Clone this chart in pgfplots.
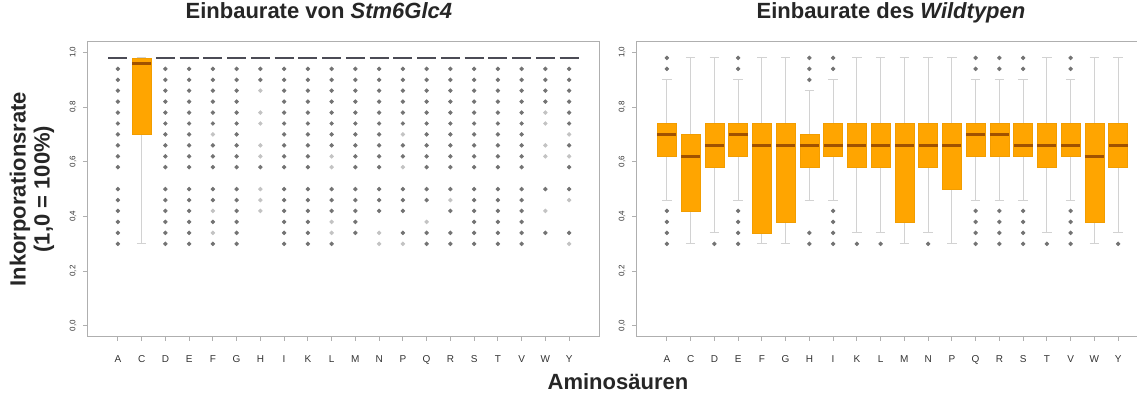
\documentclass[border=0pt]{standalone}
\usepackage{pgfplots}
\pgfplotsset{compat=1.18}
\usepgfplotslibrary{statistics}
\usepackage{fontspec}
\setmainfont{Liberation Sans}
\definecolor{boxor}{RGB}{255,165,0}
\definecolor{medc}{RGB}{160,82,0}
\definecolor{axg}{RGB}{175,175,175}
\definecolor{whg}{RGB}{210,210,210}
\definecolor{outg}{RGB}{115,115,115}
\definecolor{outl}{RGB}{195,195,195}
\definecolor{dashg}{RGB}{75,75,85}
\pgfplotsset{
  bx/.style={solid, color=outg, mark=*, mark size=0.9pt, mark options={draw=outg, fill=outg},
    boxplot/draw direction=y,
    boxplot/every box/.style={draw=boxor!95!black, fill=boxor, line width=0.3pt},
    boxplot/every whisker/.style={draw=whg, line width=0.4pt},
    boxplot/every median/.style={draw=medc, line width=1.5pt}},
  flat/.style={solid, color=outg, mark=*, mark size=0.9pt, mark options={draw=outg, fill=outg},
    boxplot/draw direction=y,
    boxplot/every box/.style={draw=none, fill=none},
    boxplot/every whisker/.style={draw=none},
    boxplot/every median/.style={draw=dashg, line width=0.8pt}},
  panel/.style={scale only axis, width=256.5pt, height=147.6pt,
    xmin=-0.3, xmax=21.3, ymin=-0.04, ymax=1.04,
    xtick={1,...,20}, xticklabels={A,C,D,E,F,G,H,I,K,L,M,N,P,Q,R,S,T,V,W,Y},
    ytick={0,0.2,0.4,0.6,0.8,1},
    tick pos=left, tick align=outside, major tick length=2pt,
    axis line style={draw=axg, line width=0.5pt},
    tick style={draw=axg, line width=0.4pt},
    /pgf/number format/assume math mode=true,
    yticklabel={\pgfmathprintnumber[use comma, fixed, fixed zerofill, precision=1]{\tick}},
    xticklabel style={font=\fontsize{5}{6}\selectfont, text=black!80, anchor=base, yshift=-11pt},
    yticklabel style={font=\fontsize{4}{5}\selectfont, text=black!80, xshift=-5pt, rotate=90, anchor=center},
    title style={font=\fontsize{11}{13}\selectfont\bfseries, text=black!85, anchor=base, yshift=5.25pt},
  },
}
\begin{document}
\begin{tikzpicture}
\path[use as bounding box] (0,0) rectangle (568.5pt,198pt);
\clip (0,0) rectangle (568.5pt,198pt);
% ---------------- left panel ----------------
\begin{axis}[panel, at={(43.5pt,29.65pt)}, anchor=south west,
  title={Einbaurate von \textit{Stm6Glc4}}, title style={at={(0.452,1)}},
  ylabel={Inkorporationsrate\\(1,0 = 100\%)},
  ylabel style={at={(axis description cs:-0.1072,0.5)}, anchor=center, align=center, text=black!85, font=\fontsize{11}{12}\selectfont\bfseries},
  xlabel={Aminosäuren},
  xlabel style={at={(axis description cs:1.035,0)}, anchor=base, yshift=-26.65pt, text=black!85, font=\fontsize{11}{13}\selectfont\bfseries},
]
\addplot[only marks, color=outl, mark=*, mark size=0.9pt, mark options={draw=outl, fill=outl}] coordinates {
 (5,0.70) (5,0.42) (5,0.34)
 (7,0.86) (7,0.78) (7,0.74) (7,0.66) (7,0.62) (7,0.50) (7,0.46) (7,0.42)
 (10,0.62) (10,0.58) (10,0.38) (10,0.34)
 (12,0.34) (12,0.30)
 (13,0.70) (13,0.58) (13,0.30)
 (14,0.38) (15,0.46)
 (19,0.78) (19,0.74) (19,0.66) (19,0.62) (19,0.42)
 (20,0.70) (20,0.62) (20,0.46) (20,0.30)
};
\addplot[flat, boxplot prepared={draw position=1, lower whisker=0.98, lower quartile=0.98, median=0.98, upper quartile=0.98, upper whisker=0.98, box extend=0.8, whisker extend=0.4}]
 table[row sep=\\, y index=0] {y\\0.94\\0.90\\0.86\\0.82\\0.78\\0.74\\0.70\\0.66\\0.62\\0.58\\0.50\\0.46\\0.42\\0.38\\0.34\\0.30\\};
\addplot[bx, boxplot prepared={draw position=2, lower whisker=0.30, lower quartile=0.70, median=0.96, upper quartile=0.98, upper whisker=0.98, box extend=0.8, whisker extend=0.4}] coordinates {};
\addplot[flat, boxplot prepared={draw position=3, lower whisker=0.98, lower quartile=0.98, median=0.98, upper quartile=0.98, upper whisker=0.98, box extend=0.8, whisker extend=0.4}]
 table[row sep=\\, y index=0] {y\\0.94\\0.90\\0.86\\0.82\\0.78\\0.74\\0.70\\0.66\\0.62\\0.58\\0.50\\0.46\\0.42\\0.38\\0.34\\0.30\\};
\addplot[flat, boxplot prepared={draw position=4, lower whisker=0.98, lower quartile=0.98, median=0.98, upper quartile=0.98, upper whisker=0.98, box extend=0.8, whisker extend=0.4}]
 table[row sep=\\, y index=0] {y\\0.94\\0.90\\0.86\\0.82\\0.78\\0.74\\0.70\\0.66\\0.62\\0.58\\0.50\\0.46\\0.42\\0.38\\0.34\\0.30\\};
\addplot[flat, boxplot prepared={draw position=5, lower whisker=0.98, lower quartile=0.98, median=0.98, upper quartile=0.98, upper whisker=0.98, box extend=0.8, whisker extend=0.4}]
 table[row sep=\\, y index=0] {y\\0.94\\0.90\\0.86\\0.82\\0.78\\0.74\\0.66\\0.62\\0.58\\0.50\\0.46\\0.38\\0.30\\};
\addplot[flat, boxplot prepared={draw position=6, lower whisker=0.98, lower quartile=0.98, median=0.98, upper quartile=0.98, upper whisker=0.98, box extend=0.8, whisker extend=0.4}]
 table[row sep=\\, y index=0] {y\\0.94\\0.90\\0.86\\0.82\\0.78\\0.74\\0.70\\0.66\\0.62\\0.58\\0.50\\0.46\\0.42\\0.38\\0.34\\0.30\\};
\addplot[flat, boxplot prepared={draw position=7, lower whisker=0.98, lower quartile=0.98, median=0.98, upper quartile=0.98, upper whisker=0.98, box extend=0.8, whisker extend=0.4}]
 table[row sep=\\, y index=0] {y\\0.94\\0.90\\0.58\\};
\addplot[flat, boxplot prepared={draw position=8, lower whisker=0.98, lower quartile=0.98, median=0.98, upper quartile=0.98, upper whisker=0.98, box extend=0.8, whisker extend=0.4}]
 table[row sep=\\, y index=0] {y\\0.94\\0.90\\0.86\\0.82\\0.78\\0.74\\0.70\\0.66\\0.62\\0.58\\0.50\\0.46\\0.42\\0.38\\0.34\\0.30\\};
\addplot[flat, boxplot prepared={draw position=9, lower whisker=0.98, lower quartile=0.98, median=0.98, upper quartile=0.98, upper whisker=0.98, box extend=0.8, whisker extend=0.4}]
 table[row sep=\\, y index=0] {y\\0.94\\0.90\\0.86\\0.82\\0.78\\0.74\\0.70\\0.66\\0.62\\0.58\\0.50\\0.46\\0.42\\0.38\\0.34\\0.30\\};
\addplot[flat, boxplot prepared={draw position=10, lower whisker=0.98, lower quartile=0.98, median=0.98, upper quartile=0.98, upper whisker=0.98, box extend=0.8, whisker extend=0.4}]
 table[row sep=\\, y index=0] {y\\0.94\\0.90\\0.86\\0.82\\0.78\\0.74\\0.70\\0.66\\0.50\\0.46\\0.42\\0.30\\};
\addplot[flat, boxplot prepared={draw position=11, lower whisker=0.98, lower quartile=0.98, median=0.98, upper quartile=0.98, upper whisker=0.98, box extend=0.8, whisker extend=0.4}]
 table[row sep=\\, y index=0] {y\\0.94\\0.90\\0.86\\0.82\\0.78\\0.74\\0.70\\0.66\\0.62\\0.58\\0.50\\0.46\\0.42\\0.38\\0.34\\};
\addplot[flat, boxplot prepared={draw position=12, lower whisker=0.98, lower quartile=0.98, median=0.98, upper quartile=0.98, upper whisker=0.98, box extend=0.8, whisker extend=0.4}]
 table[row sep=\\, y index=0] {y\\0.94\\0.90\\0.86\\0.82\\0.78\\0.74\\0.70\\0.66\\0.62\\0.58\\0.50\\0.46\\0.42\\};
\addplot[flat, boxplot prepared={draw position=13, lower whisker=0.98, lower quartile=0.98, median=0.98, upper quartile=0.98, upper whisker=0.98, box extend=0.8, whisker extend=0.4}]
 table[row sep=\\, y index=0] {y\\0.94\\0.90\\0.86\\0.82\\0.78\\0.74\\0.66\\0.62\\0.50\\0.46\\0.42\\0.34\\};
\addplot[flat, boxplot prepared={draw position=14, lower whisker=0.98, lower quartile=0.98, median=0.98, upper quartile=0.98, upper whisker=0.98, box extend=0.8, whisker extend=0.4}]
 table[row sep=\\, y index=0] {y\\0.94\\0.90\\0.86\\0.82\\0.78\\0.74\\0.70\\0.66\\0.62\\0.58\\0.50\\0.46\\0.34\\0.30\\};
\addplot[flat, boxplot prepared={draw position=15, lower whisker=0.98, lower quartile=0.98, median=0.98, upper quartile=0.98, upper whisker=0.98, box extend=0.8, whisker extend=0.4}]
 table[row sep=\\, y index=0] {y\\0.94\\0.90\\0.86\\0.82\\0.78\\0.74\\0.70\\0.66\\0.62\\0.58\\0.50\\0.42\\0.34\\0.30\\};
\addplot[flat, boxplot prepared={draw position=16, lower whisker=0.98, lower quartile=0.98, median=0.98, upper quartile=0.98, upper whisker=0.98, box extend=0.8, whisker extend=0.4}]
 table[row sep=\\, y index=0] {y\\0.94\\0.90\\0.86\\0.82\\0.78\\0.74\\0.70\\0.66\\0.62\\0.58\\0.50\\0.46\\0.42\\0.38\\0.34\\0.30\\};
\addplot[flat, boxplot prepared={draw position=17, lower whisker=0.98, lower quartile=0.98, median=0.98, upper quartile=0.98, upper whisker=0.98, box extend=0.8, whisker extend=0.4}]
 table[row sep=\\, y index=0] {y\\0.94\\0.90\\0.86\\0.82\\0.78\\0.74\\0.70\\0.66\\0.62\\0.58\\0.50\\0.46\\0.42\\0.38\\0.34\\0.30\\};
\addplot[flat, boxplot prepared={draw position=18, lower whisker=0.98, lower quartile=0.98, median=0.98, upper quartile=0.98, upper whisker=0.98, box extend=0.8, whisker extend=0.4}]
 table[row sep=\\, y index=0] {y\\0.94\\0.90\\0.86\\0.82\\0.78\\0.74\\0.70\\0.66\\0.62\\0.58\\0.50\\0.46\\0.42\\0.38\\0.34\\0.30\\};
\addplot[flat, boxplot prepared={draw position=19, lower whisker=0.98, lower quartile=0.98, median=0.98, upper quartile=0.98, upper whisker=0.98, box extend=0.8, whisker extend=0.4}]
 table[row sep=\\, y index=0] {y\\0.94\\0.90\\0.86\\0.82\\0.50\\0.34\\};
\addplot[flat, boxplot prepared={draw position=20, lower whisker=0.98, lower quartile=0.98, median=0.98, upper quartile=0.98, upper whisker=0.98, box extend=0.8, whisker extend=0.4}]
 table[row sep=\\, y index=0] {y\\0.94\\0.90\\0.86\\0.82\\0.78\\0.74\\0.66\\0.58\\0.50\\0.34\\};
\end{axis}
% ---------------- right panel ----------------
\begin{axis}[panel, at={(318pt,29.65pt)}, anchor=south west,
  title={Einbaurate des \textit{Wildtypen}}, title style={at={(0.497,1)}},
]
\addplot[bx, boxplot prepared={draw position=1, lower whisker=0.46, lower quartile=0.62, median=0.70, upper quartile=0.74, upper whisker=0.90, box extend=0.8, whisker extend=0.4}]
 table[row sep=\\, y index=0] {y\\0.94\\0.98\\0.42\\0.38\\0.34\\0.30\\};
\addplot[bx, boxplot prepared={draw position=2, lower whisker=0.30, lower quartile=0.42, median=0.62, upper quartile=0.70, upper whisker=0.98, box extend=0.8, whisker extend=0.4}] coordinates {};
\addplot[bx, boxplot prepared={draw position=3, lower whisker=0.34, lower quartile=0.58, median=0.66, upper quartile=0.74, upper whisker=0.98, box extend=0.8, whisker extend=0.4}]
 table[row sep=\\, y index=0] {y\\0.30\\};
\addplot[bx, boxplot prepared={draw position=4, lower whisker=0.46, lower quartile=0.62, median=0.70, upper quartile=0.74, upper whisker=0.90, box extend=0.8, whisker extend=0.4}]
 table[row sep=\\, y index=0] {y\\0.94\\0.98\\0.42\\0.38\\0.34\\0.30\\};
\addplot[bx, boxplot prepared={draw position=5, lower whisker=0.30, lower quartile=0.34, median=0.66, upper quartile=0.74, upper whisker=0.98, box extend=0.8, whisker extend=0.4}] coordinates {};
\addplot[bx, boxplot prepared={draw position=6, lower whisker=0.30, lower quartile=0.38, median=0.66, upper quartile=0.74, upper whisker=0.98, box extend=0.8, whisker extend=0.4}] coordinates {};
\addplot[bx, boxplot prepared={draw position=7, lower whisker=0.46, lower quartile=0.58, median=0.66, upper quartile=0.70, upper whisker=0.86, box extend=0.8, whisker extend=0.4}]
 table[row sep=\\, y index=0] {y\\0.90\\0.94\\0.98\\0.34\\0.30\\};
\addplot[bx, boxplot prepared={draw position=8, lower whisker=0.46, lower quartile=0.62, median=0.66, upper quartile=0.74, upper whisker=0.90, box extend=0.8, whisker extend=0.4}]
 table[row sep=\\, y index=0] {y\\0.94\\0.98\\0.42\\0.38\\0.34\\0.30\\};
\addplot[bx, boxplot prepared={draw position=9, lower whisker=0.34, lower quartile=0.58, median=0.66, upper quartile=0.74, upper whisker=0.98, box extend=0.8, whisker extend=0.4}]
 table[row sep=\\, y index=0] {y\\0.30\\};
\addplot[bx, boxplot prepared={draw position=10, lower whisker=0.34, lower quartile=0.58, median=0.66, upper quartile=0.74, upper whisker=0.98, box extend=0.8, whisker extend=0.4}]
 table[row sep=\\, y index=0] {y\\0.30\\};
\addplot[bx, boxplot prepared={draw position=11, lower whisker=0.30, lower quartile=0.38, median=0.66, upper quartile=0.74, upper whisker=0.98, box extend=0.8, whisker extend=0.4}] coordinates {};
\addplot[bx, boxplot prepared={draw position=12, lower whisker=0.34, lower quartile=0.58, median=0.66, upper quartile=0.74, upper whisker=0.98, box extend=0.8, whisker extend=0.4}]
 table[row sep=\\, y index=0] {y\\0.30\\};
\addplot[bx, boxplot prepared={draw position=13, lower whisker=0.30, lower quartile=0.50, median=0.66, upper quartile=0.74, upper whisker=0.98, box extend=0.8, whisker extend=0.4}] coordinates {};
\addplot[bx, boxplot prepared={draw position=14, lower whisker=0.46, lower quartile=0.62, median=0.70, upper quartile=0.74, upper whisker=0.90, box extend=0.8, whisker extend=0.4}]
 table[row sep=\\, y index=0] {y\\0.94\\0.98\\0.42\\0.38\\0.34\\0.30\\};
\addplot[bx, boxplot prepared={draw position=15, lower whisker=0.46, lower quartile=0.62, median=0.70, upper quartile=0.74, upper whisker=0.90, box extend=0.8, whisker extend=0.4}]
 table[row sep=\\, y index=0] {y\\0.94\\0.98\\0.42\\0.38\\0.34\\0.30\\};
\addplot[bx, boxplot prepared={draw position=16, lower whisker=0.46, lower quartile=0.62, median=0.66, upper quartile=0.74, upper whisker=0.90, box extend=0.8, whisker extend=0.4}]
 table[row sep=\\, y index=0] {y\\0.94\\0.98\\0.42\\0.38\\0.34\\0.30\\};
\addplot[bx, boxplot prepared={draw position=17, lower whisker=0.34, lower quartile=0.58, median=0.66, upper quartile=0.74, upper whisker=0.98, box extend=0.8, whisker extend=0.4}]
 table[row sep=\\, y index=0] {y\\0.30\\};
\addplot[bx, boxplot prepared={draw position=18, lower whisker=0.46, lower quartile=0.62, median=0.66, upper quartile=0.74, upper whisker=0.90, box extend=0.8, whisker extend=0.4}]
 table[row sep=\\, y index=0] {y\\0.94\\0.98\\0.42\\0.38\\0.34\\0.30\\};
\addplot[bx, boxplot prepared={draw position=19, lower whisker=0.30, lower quartile=0.38, median=0.62, upper quartile=0.74, upper whisker=0.98, box extend=0.8, whisker extend=0.4}] coordinates {};
\addplot[bx, boxplot prepared={draw position=20, lower whisker=0.34, lower quartile=0.58, median=0.66, upper quartile=0.74, upper whisker=0.98, box extend=0.8, whisker extend=0.4}]
 table[row sep=\\, y index=0] {y\\0.30\\};
\end{axis}
\end{tikzpicture}
\end{document}
